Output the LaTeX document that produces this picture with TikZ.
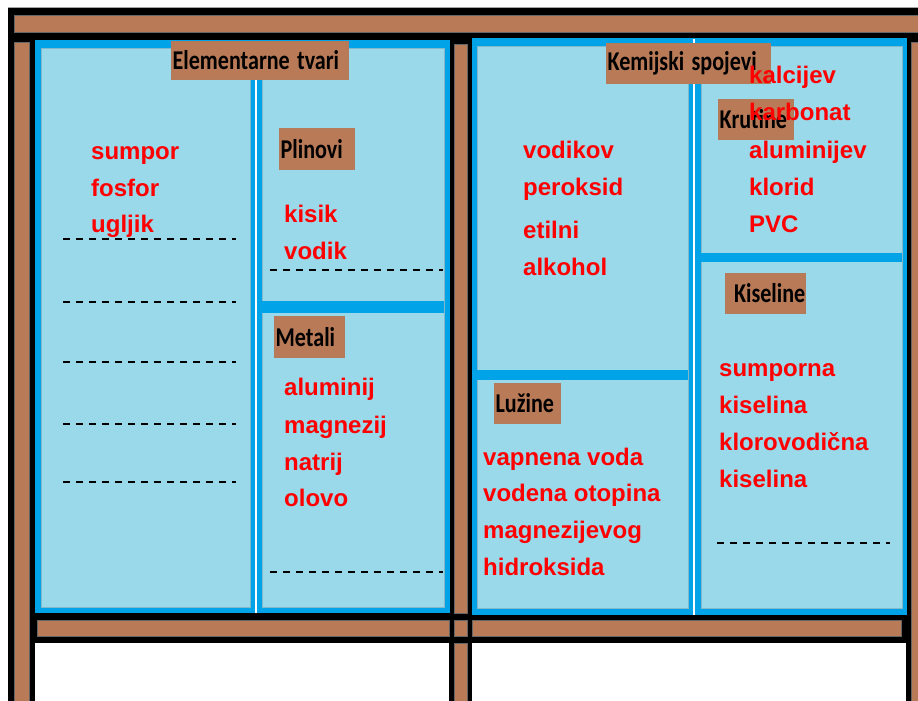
\documentclass[tikz,border=0pt]{standalone}
\usepackage{graphicx}
\usepackage{fontspec}
\setmainfont{Liberation Sans}
\newfontfamily\lblfamily{Carlito}
\definecolor{woodc}{HTML}{B97A57}
\definecolor{bluedge}{HTML}{00A2E8}
\definecolor{bluefill}{HTML}{99D9EA}
\definecolor{redtxt}{HTML}{FF0000}
\newcommand\lbltext[1]{\scalebox{0.96}[1.18]{#1}}
\tikzset{
  woodbar/.style={fill=woodc, draw=black!60, line width=0.4pt},
  outerbox/.style={fill=bluedge},
  innerbox/.style={fill=bluefill, draw=bluefill!85!black, line width=0.3pt},
  lbl/.style={fill=woodc, draw=woodc!90!gray, line width=0.3pt, inner xsep=1.5pt, inner ysep=0pt,
    align=left, anchor=north west, text=black, font=\lblfamily\bfseries\fontsize{23}{23}\selectfont},
  rtxt/.style={text=redtxt, font=\fontsize{24}{24}\selectfont\bfseries, anchor=base west, inner sep=0pt},
  blank/.style={black, dash pattern=on 7pt off 6pt, line width=1.6pt}
}
\begin{document}
\begin{tikzpicture}[x=1pt,y=-1pt]
\useasboundingbox (0,0) rectangle (918,701);
\fill[white] (0,0) rectangle (918,701);
% frame
\fill[black] (8,7) rectangle (918,701);
\draw[gray!70, line width=0.6pt] (8,7) -- (918,7);
\draw[woodbar] (14,15) rectangle (920,32);
\draw[woodbar] (14,42) rectangle (29,703);
\draw[woodbar] (454,44) rectangle (467,613);
\draw[woodbar] (454,620) rectangle (467,636);
\draw[woodbar] (454,643) rectangle (467,703);
\draw[woodbar] (911,42) rectangle (920,703);
\draw[woodbar] (37,620) rectangle (449,636);
\draw[woodbar] (472,620) rectangle (901,636);
\fill[white] (35,643) rectangle (449,703);
\fill[white] (472,643) rectangle (906,703);
% left panel
\fill[outerbox] (35,40) rectangle (450,613);
\fill[white] (255,41) rectangle (257,613);
\filldraw[innerbox] (41,48) rectangle (250,607);
\filldraw[innerbox] (262,48) rectangle (444,607);
\fill[outerbox] (262,301) rectangle (444,313);
% right panel
\fill[outerbox] (472,38) rectangle (907,615);
\fill[white] (693,39) rectangle (695,615);
\filldraw[innerbox] (477,46) rectangle (688,608);
\filldraw[innerbox] (701,46) rectangle (902,608);
\fill[outerbox] (477,370) rectangle (688,380);
\fill[outerbox] (701,253) rectangle (902,262);
% labels
\node[lbl, text width=174pt, minimum height=38pt] (elem) at (171,41) {\lbltext{Elementarne tvari}};
\node[lbl, text width=72pt, minimum height=41pt] (plin) at (279,128) {\lbltext{Plinovi}};
\node[lbl, text width=67pt, minimum height=41pt] (metal) at (274,316) {\lbltext{Metali}};
\node[lbl, text width=161pt, minimum height=40pt] (kem) at (606,43) {\lbltext{Kemijski spojevi}};
\node[lbl, text width=72pt, minimum height=40pt] (krut) at (718,99) {\lbltext{Krutine}};
\node[lbl, text width=77pt, minimum height=40pt] (kis) at (725,273) {\lbltext{\ Kiseline}};
\node[lbl, text width=63pt, minimum height=40pt] (luz) at (494,383) {\lbltext{Lužine}};
% dashed blanks
\foreach \yy in {239,302,362,424,482} \draw[blank] (63,\yy) -- (236,\yy);
\draw[blank] (270,270) -- (443,270);
\draw[blank] (270,572) -- (443,572);
\draw[blank] (717,543) -- (890,543);
% red texts
\node[rtxt] (e1) at (91,159) {sumpor};
\node[rtxt] (e2) at (91,196) {fosfor};
\node[rtxt] (e3) at (91,232) {ugljik};
\node[rtxt] (p1) at (284,222) {kisik};
\node[rtxt] (p2) at (284,259) {vodik};
\node[rtxt] (m1) at (284,395) {aluminij};
\node[rtxt] (m2) at (284,433) {magnezij};
\node[rtxt] (m3) at (284,470) {natrij};
\node[rtxt] (m4) at (284,506) {olovo};
\node[rtxt] (s1) at (523,158) {vodikov};
\node[rtxt] (s2) at (523,195) {peroksid};
\node[rtxt] (s3) at (523,238) {etilni};
\node[rtxt] (s4) at (523,275) {alkohol};
\node[rtxt] (l1) at (483,465) {vapnena voda};
\node[rtxt] (l2) at (483,501) {vodena otopina};
\node[rtxt] (l3) at (483,538) {magnezijevog};
\node[rtxt] (l4) at (483,575) {hidroksida};
\node[rtxt] (k1) at (749,83) {kalcijev};
\node[rtxt] (k2) at (749,120) {karbonat};
\node[rtxt] (k3) at (749,158) {aluminijev};
\node[rtxt] (k4) at (749,195) {klorid};
\node[rtxt] (k5) at (749,232) {PVC};
\node[rtxt] (a1) at (719,376) {sumporna};
\node[rtxt] (a2) at (719,413) {kiselina};
\node[rtxt] (a3) at (719,450) {klorovodična};
\node[rtxt] (a4) at (719,487) {kiselina};
\end{tikzpicture}
\end{document}
